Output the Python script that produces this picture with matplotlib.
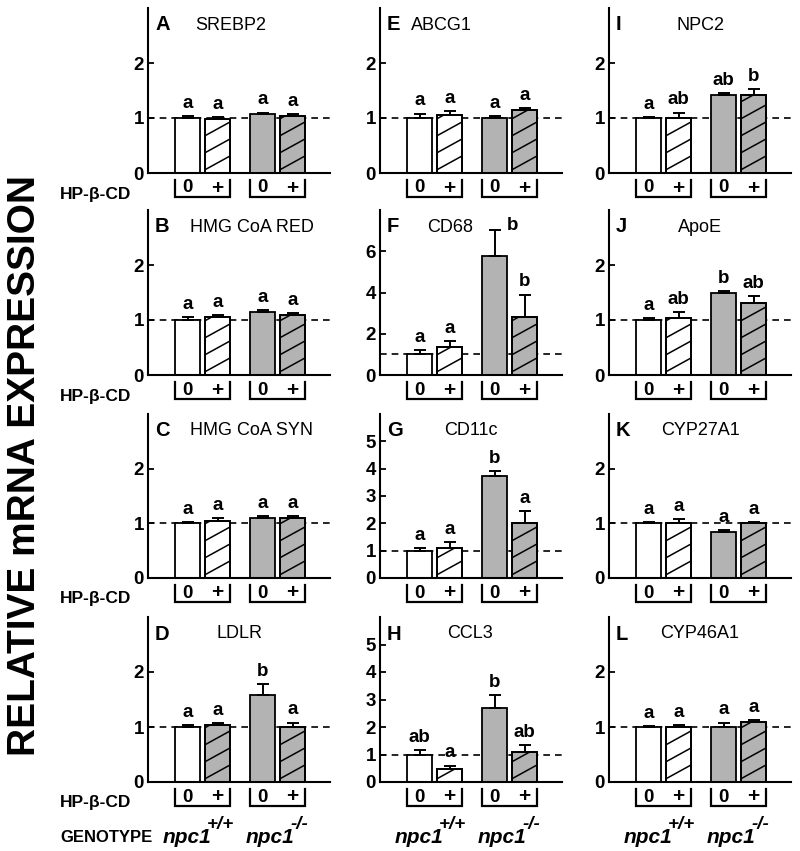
import matplotlib
matplotlib.use("Agg")
import matplotlib.pyplot as plt
import numpy as np
from matplotlib.lines import Line2D

plt.rcParams['font.family'] = ['Liberation Sans', 'DejaVu Sans']

# ---------------- data ----------------
treatments = ['0', '+']
genotype_base = ['npc1', 'npc1']
genotype_sup = ['+/+', '-/-']

panel_letters = ['A', 'B', 'C', 'D', 'E', 'F', 'G', 'H', 'I', 'J', 'K', 'L']
gene_names = ['SREBP2', 'HMG CoA RED', 'HMG CoA SYN', 'LDLR',
              'ABCG1', 'CD68', 'CD11c', 'CCL3',
              'NPC2', 'ApoE', 'CYP27A1', 'CYP46A1']

srebp2_mean = [1.00, 0.99, 1.07, 1.04]
srebp2_err = [0.03, 0.03, 0.03, 0.03]
srebp2_sig = ['a', 'a', 'a', 'a']

hmgred_mean = [1.00, 1.05, 1.15, 1.10]
hmgred_err = [0.05, 0.04, 0.03, 0.03]
hmgred_sig = ['a', 'a', 'a', 'a']

hmgsyn_mean = [1.00, 1.05, 1.10, 1.10]
hmgsyn_err = [0.03, 0.04, 0.03, 0.03]
hmgsyn_sig = ['a', 'a', 'a', 'a']

ldlr_mean = [1.00, 1.03, 1.58, 1.00]
ldlr_err = [0.03, 0.04, 0.20, 0.08]
ldlr_sig = ['a', 'a', 'b', 'a']

abcg1_mean = [1.00, 1.05, 1.00, 1.15]
abcg1_err = [0.08, 0.08, 0.03, 0.03]
abcg1_sig = ['a', 'a', 'a', 'a']

cd68_mean = [1.00, 1.35, 5.75, 2.80]
cd68_err = [0.20, 0.30, 1.30, 1.10]
cd68_sig = ['a', 'a', 'b', 'b']

cd11c_mean = [1.00, 1.08, 3.75, 2.00]
cd11c_err = [0.08, 0.22, 0.15, 0.45]
cd11c_sig = ['a', 'a', 'b', 'a']

ccl3_mean = [1.00, 0.48, 2.68, 1.08]
ccl3_err = [0.15, 0.12, 0.47, 0.27]
ccl3_sig = ['ab', 'a', 'b', 'ab']

npc2_mean = [1.00, 1.00, 1.42, 1.42]
npc2_err = [0.02, 0.10, 0.03, 0.11]
npc2_sig = ['a', 'ab', 'ab', 'b']

apoe_mean = [1.00, 1.03, 1.49, 1.31]
apoe_err = [0.03, 0.12, 0.03, 0.12]
apoe_sig = ['a', 'ab', 'b', 'ab']

cyp27_mean = [1.00, 1.00, 0.85, 1.00]
cyp27_err = [0.03, 0.08, 0.03, 0.03]
cyp27_sig = ['a', 'a', 'a', 'a']

cyp46_mean = [1.00, 1.00, 1.00, 1.10]
cyp46_err = [0.02, 0.04, 0.08, 0.03]
cyp46_sig = ['a', 'a', 'a', 'a']

means = [srebp2_mean, hmgred_mean, hmgsyn_mean, ldlr_mean,
         abcg1_mean, cd68_mean, cd11c_mean, ccl3_mean,
         npc2_mean, apoe_mean, cyp27_mean, cyp46_mean]
errs = [srebp2_err, hmgred_err, hmgsyn_err, ldlr_err,
        abcg1_err, cd68_err, cd11c_err, ccl3_err,
        npc2_err, apoe_err, cyp27_err, cyp46_err]
sigs = [srebp2_sig, hmgred_sig, hmgsyn_sig, ldlr_sig,
        abcg1_sig, cd68_sig, cd11c_sig, ccl3_sig,
        npc2_sig, apoe_sig, cyp27_sig, cyp46_sig]

ymaxes = [3, 3, 3, 3, 3, 8, 6, 6, 3, 3, 3, 3]
yticks_list = [[0, 1, 2]] * 5 + [[0, 2, 4, 6], [0, 1, 2, 3, 4, 5], [0, 1, 2, 3, 4, 5]] + [[0, 1, 2]] * 4

# ---------------- style / layout ----------------
W, H = 800, 851
fig = plt.figure(figsize=(W / 100, H / 100), dpi=100)
fig.patch.set_facecolor('white')
renderer = fig.canvas.get_renderer()

GRAY = '#b3b3b3'
col_left = [148, 380, 609]
col_w = 182
row_top = [8, 210, 414, 617]
row_bot = [173, 375, 578, 782]
name_dx = [83, 104, 103, 92, 61, 70, 91, 90, 91, 91, 91, 91]

xpos = np.array([0, 1, 2.5, 3.5]) + 1.32
bw = 0.83
xmax = 6.07
fills_default = ['white', 'white', GRAY, GRAY]
hatched = [False, True, False, True]
HATCH_SLOPE = 0.55     # pixel slope of hatch lines
HATCH_STEP = 17.0      # vertical pixel spacing of hatch lines


def fx(px):
    return px / W


def fy(py):
    return 1 - py / H


def add_hatch(ax, patch, x0, x1, y1, ppx, ppy):
    """Draw slanted hatch lines clipped to a bar patch (ppx/ppy: pixels per data unit)."""
    wpx = (x1 - x0) * ppx
    hpx_bar = y1 * ppy
    b = -wpx * HATCH_SLOPE
    while b < hpx_bar:
        xs_px = np.array([0.0, wpx])
        ys_px = HATCH_SLOPE * xs_px + b
        ln = Line2D(x0 + xs_px / ppx, ys_px / ppy, color='black', lw=1.1, zorder=2.5)
        ax.add_line(ln)
        ln.set_clip_path(patch)
        b += HATCH_STEP


for i in range(12):
    c, r = divmod(i, 4)
    left = col_left[c]
    top, bot = row_top[r], row_bot[r]
    hpx = bot - top
    ax = fig.add_axes([fx(left), fy(bot), fx(col_w), (bot - top) / H])
    ax.set_xlim(0, xmax)
    ax.set_ylim(0, ymaxes[i])
    for s in ['top', 'right']:
        ax.spines[s].set_visible(False)
    for s in ['left', 'bottom']:
        ax.spines[s].set_linewidth(1.5)
    ax.set_xticks([])
    ax.set_yticks(yticks_list[i])
    ax.tick_params(axis='y', direction='in', length=4, width=1.3, pad=3,
                   labelsize=13.5)
    for lab in ax.get_yticklabels():
        lab.set_fontweight('bold')

    ax.axhline(1, color='black', lw=1.2, ls=(0, (4, 3)), zorder=1)

    ppx = col_w / xmax
    ppy = hpx / ymaxes[i]

    fills = list(fills_default)
    if panel_letters[i] == 'D':
        fills[1] = GRAY
    m = means[i]
    e = errs[i]
    for k in range(4):
        bars = ax.bar(xpos[k], m[k], width=bw, color=fills[k], edgecolor='black',
                      linewidth=1.3, zorder=2)
        if hatched[k]:
            add_hatch(ax, bars[0], xpos[k] - bw / 2, xpos[k] + bw / 2, m[k], ppx, ppy)
            # redraw outline on top of hatch lines
            ax.bar(xpos[k], m[k], width=bw, color='none', edgecolor='black',
                   linewidth=1.3, zorder=2.8)
    ax.errorbar(xpos, m, yerr=[np.zeros(4), e], fmt='none', ecolor='black',
                elinewidth=1.4, capsize=4, capthick=1.4, zorder=3)

    ymax = ymaxes[i]
    for k in range(4):
        t = m[k] + e[k]
        if t > 0.8 * ymax:
            ax.annotate(sigs[i][k], (xpos[k], t), xytext=(9, -3),
                        textcoords='offset points', ha='left', va='bottom',
                        fontsize=13.5, fontweight='bold')
        else:
            ax.annotate(sigs[i][k], (xpos[k], t), xytext=(0, 3),
                        textcoords='offset points', ha='center', va='bottom',
                        fontsize=13.5, fontweight='bold')

    # panel letter & gene name
    ax.text(7 / col_w, 1 - 17 / hpx, panel_letters[i], transform=ax.transAxes,
            fontsize=14.5, fontweight='bold', ha='left', va='center')
    ax.text(name_dx[i] / col_w, 1 - 17 / hpx, gene_names[i], transform=ax.transAxes,
            fontsize=13, ha='center', va='center')

    # brackets for HP-beta-CD
    tr = ax.get_xaxis_transform()
    for g in range(2):
        x0 = xpos[2 * g] - bw / 2
        x1 = xpos[2 * g + 1] + bw / 2
        y0 = -7 / hpx
        y1 = -24 / hpx
        ax.plot([x0, x0, x1, x1], [y0, y1, y1, y0], color='black', lw=1.6,
                transform=tr, clip_on=False, solid_joinstyle='miter')
        for k in range(2):
            ax.text(xpos[2 * g + k], -15 / hpx, treatments[k], transform=tr,
                    ha='center', va='center', fontsize=13.5 if k == 0 else 15,
                    fontweight='bold')

    if c == 0:
        fig.text(fx(60), fy(bot + 21), 'HP-β-CD', ha='left', va='center',
                 fontsize=12.5, fontweight='bold')

    if r == 3:
        for g in range(2):
            gx = left + (xpos[2 * g] + xpos[2 * g + 1]) / 2 / xmax * col_w
            gx += -4 if g == 0 else -1
            t1 = fig.text(0, 0, genotype_base[g], fontsize=15, fontweight='bold',
                          fontstyle='italic', ha='left', va='baseline')
            t2 = fig.text(0, 0, genotype_sup[g], fontsize=13.5, fontweight='bold',
                          fontstyle='italic', ha='left', va='baseline')
            w1 = t1.get_window_extent(renderer).width
            w2 = t2.get_window_extent(renderer).width
            gap = -4
            start = gx - (w1 + w2 + gap) / 2
            t1.set_position((fx(start), fy(843)))
            t2.set_position((fx(start + w1 + gap), fy(829)))

fig.text(fx(60), fy(842), 'GENOTYPE', ha='left', va='baseline', fontsize=12,
         fontweight='bold')

fig.text(fx(25), fy(465), 'RELATIVE mRNA EXPRESSION', rotation=90,
         ha='center', va='center', fontsize=28, fontweight='bold')

fig.savefig('out.png', dpi=100, facecolor='white')
